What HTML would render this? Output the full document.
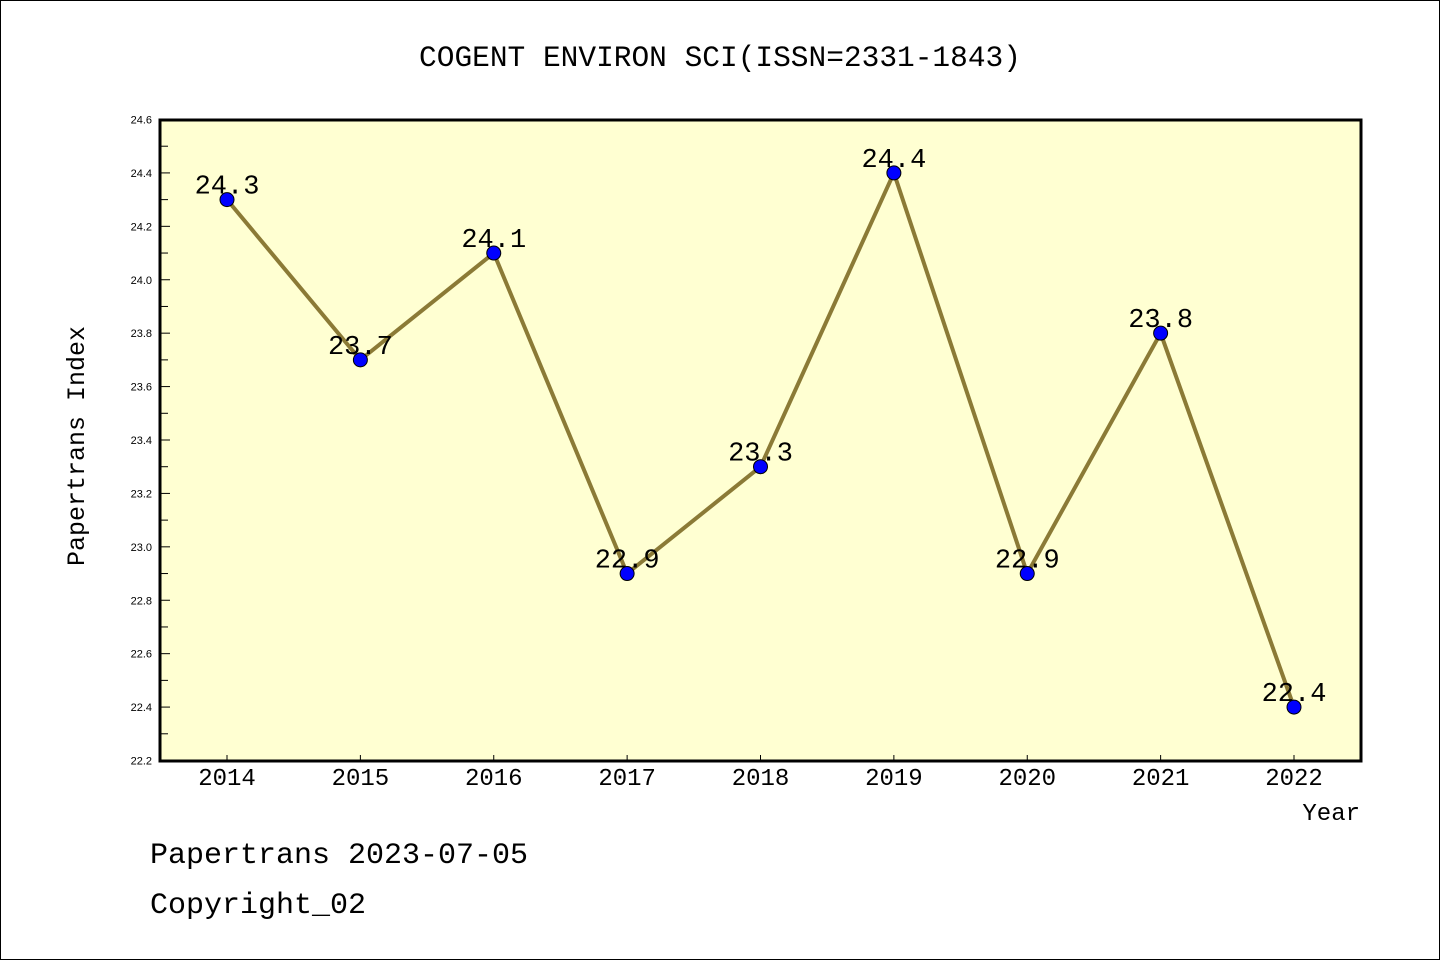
<!DOCTYPE html>
<html><head><meta charset="utf-8">
<style>
html,body{margin:0;padding:0;background:#fff;}
svg{display:block;font-family:"Liberation Mono",monospace;}
</style></head>
<body>
<svg id="chart" width="1440" height="960" xmlns="http://www.w3.org/2000/svg">
<rect x="0.5" y="0.5" width="1439" height="959" fill="#fff" stroke="#000" stroke-width="1"/>
<text x="720" y="66" font-size="29.5" text-anchor="middle">COGENT ENVIRON SCI(ISSN=2331-1843)</text>
<rect x="160" y="120" width="1201" height="641" fill="#ffffd2"/>
<g id="axes"></g>
<g id="series"></g>
<rect x="160" y="120" width="1201" height="641" fill="none" stroke="#000" stroke-width="3"/>
<text transform="translate(84,446) rotate(-90)" font-size="25" text-anchor="middle">Papertrans Index</text>
<text x="1360" y="820" font-size="24" text-anchor="end">Year</text>
<text x="150" y="863" font-size="30">Papertrans 2023-07-05</text>
<text x="150" y="913" font-size="30">Copyright_02</text>
</svg>
<script>
const years = [2014,2015,2016,2017,2018,2019,2020,2021,2022];
const values = [24.3,23.7,24.1,22.9,23.3,24.4,22.9,23.8,22.4];
const yTicks = [22.2,22.4,22.6,22.8,23.0,23.2,23.4,23.6,23.8,24.0,24.2,24.4,24.6];
const yMin = 22.2, yMax = 24.6;
const NS = "http://www.w3.org/2000/svg";
function xPos(i){ return 227 + i*(1294-227)/(years.length-1); }
function yPos(v){ return 760.5 - (v - yMin)/(yMax - yMin)*(760.5-119.5); }
function mk(tag, attrs, parent){ const e=document.createElementNS(NS,tag); for(const k in attrs) e.setAttribute(k,attrs[k]); parent.appendChild(e); return e; }
const axes=document.getElementById('axes'), series=document.getElementById('series');
yTicks.forEach((t,i)=>{
  const y=yPos(t);
  const tk=mk('line',{x1:160,x2:170,y1:y,y2:y,stroke:'#000','stroke-width':1},axes);
  
  
  const lb=mk('text',{x:152,y:y+4,'font-size':11,'text-anchor':'end','font-family':'Liberation Sans, sans-serif'},axes);
  
  
  lb.textContent=t.toFixed(1);
  if(i<yTicks.length-1){
    const ym=yPos(t+0.1);
    const mt=mk('line',{x1:160,x2:168,y1:ym,y2:ym,stroke:'#000','stroke-width':1},axes);
    
    
  }
});
years.forEach((yr,i)=>{
  const x=xPos(i);
  const tk=mk('line',{x1:x,x2:x,y1:755,y2:761,stroke:'#000','stroke-width':1},axes);
  
  
  const lb=mk('text',{x:x,y:785,'font-size':24,'text-anchor':'middle'},axes);
  
  
  lb.textContent=yr;
});
const pts=values.map((v,i)=>xPos(i)+','+yPos(v)).join(' ');
const line=mk('polyline',{points:pts,fill:'none',stroke:'#8b7a36','stroke-width':4,'stroke-linejoin':'round'},series);


values.forEach((v,i)=>{
  const c=mk('circle',{cx:xPos(i),cy:yPos(v),r:7,fill:'#0000ff',stroke:'#000','stroke-width':1},series);
  
  
  const t=mk('text',{x:xPos(i),y:yPos(v)-6,'font-size':27,'text-anchor':'middle'},series);
  
  
  t.textContent=v.toFixed(1);
});
</script>
</body></html>
